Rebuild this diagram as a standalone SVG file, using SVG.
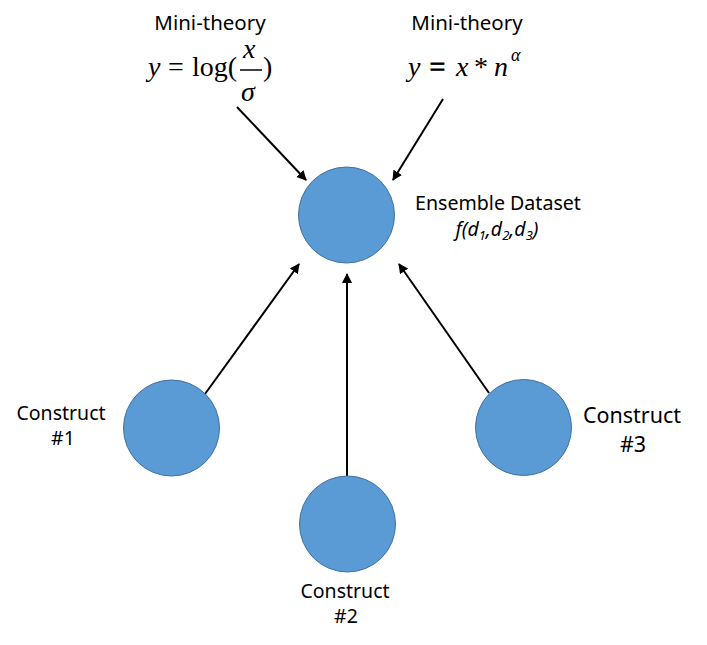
<svg xmlns="http://www.w3.org/2000/svg" width="707" height="645" viewBox="0 0 707 645">
<defs>
<style>
.node{fill:#5B9BD5;stroke:#41719C;stroke-width:1}
.lbl{font-family:"Noto Sans","Open Sans",sans-serif;fill:#000;text-anchor:middle}
.m{font-family:"Liberation Serif","Times New Roman",serif;fill:#000}
.i{font-style:italic}
.conn{stroke:#000;stroke-width:2;fill:none;marker-end:url(#ah)}
</style>
<marker id="ah" viewBox="0 0 10 10" refX="9" refY="5" markerWidth="5" markerHeight="5" orient="auto" markerUnits="strokeWidth">
<path d="M0,0 L10,5 L0,10 z" fill="#000"/>
</marker>
</defs>
<rect width="707" height="645" fill="#fff"/>
<g id="connectors">
<line class="conn" x1="237" y1="107" x2="306" y2="180"/>
<line class="conn" x1="443" y1="99" x2="393" y2="180"/>
<line class="conn" x1="205" y1="394" x2="299" y2="264"/>
<line class="conn" x1="347" y1="476" x2="347" y2="274"/>
<line class="conn" x1="489" y1="393" x2="399" y2="264"/>
</g>
<g id="theory1">
<text class="lbl" x="210" y="30" font-size="20.5">Mini-theory</text>
<g class="m" font-size="28">
<text x="148" y="76" class="i">y</text>
<text x="168" y="76">=</text>
<text x="192" y="76">log(</text>
<text x="243" y="58" class="i">x</text>
<line x1="240" y1="70" x2="262" y2="70" stroke="#000" stroke-width="1.5"/>
<text x="241" y="101" class="i">σ</text>
<text x="263" y="76">)</text>
</g>
</g>
<g id="theory2">
<text class="lbl" x="467" y="30" font-size="20.5">Mini-theory</text>
<g class="m" font-size="28">
<text x="408" y="76" class="i">y</text>
<text x="429.5" y="76" stroke="#000" stroke-width="0.8">=</text>
<text x="456" y="76" class="i">x</text>
<text x="474" y="76">*</text>
<text x="494" y="76" class="i">n</text>
<text x="511" y="61" class="i" font-size="18">α</text>
</g>
</g>
<g id="ensemble">
<circle class="node" cx="346.5" cy="215" r="48"/>
<text class="lbl" x="498" y="210" font-size="19.6">Ensemble Dataset</text>
<text class="lbl" x="497" y="236" font-size="19.5" font-style="italic" fill="#1F3864">f(d<tspan font-size="13" dy="4">1</tspan><tspan dy="-4">,d</tspan><tspan font-size="13" dy="4">2</tspan><tspan dy="-4">,d</tspan><tspan font-size="13" dy="4">3</tspan><tspan dy="-4">)</tspan></text>
</g>
<g id="construct1">
<circle class="node" cx="171.5" cy="428" r="48"/>
<text class="lbl" x="61" y="420" font-size="19.5">Construct</text>
<text class="lbl" x="63" y="445" font-size="19.5">#1</text>
</g>
<g id="construct2">
<circle class="node" cx="347.5" cy="524" r="48"/>
<text class="lbl" x="345" y="598" font-size="19.5">Construct</text>
<text class="lbl" x="346" y="623" font-size="19.5">#2</text>
</g>
<g id="construct3">
<circle class="node" cx="523.5" cy="427.5" r="48"/>
<text class="lbl" x="632" y="423" font-size="21.5">Construct</text>
<text class="lbl" x="633" y="452" font-size="21.5">#3</text>
</g>
</svg>
